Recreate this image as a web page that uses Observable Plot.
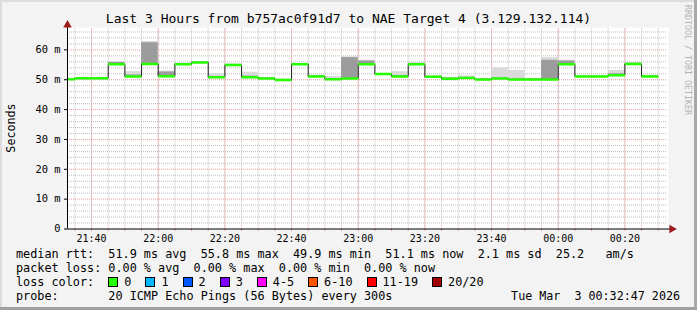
<!DOCTYPE html>
<html><head><meta charset="utf-8">
<script src="https://cdn.jsdelivr.net/npm/d3@7"></script>
<script src="https://cdn.jsdelivr.net/npm/@observablehq/plot@0.6"></script>
<style>
html,body{margin:0;padding:0;background:#f3f3f3;}
#wrap{position:relative;width:697px;height:310px;background:#f3f3f3;overflow:hidden;font-family:"DejaVu Sans Mono",monospace;color:#000;}
#chart{position:absolute;left:0;top:0;}
.t{position:absolute;white-space:pre;}
.edge{position:absolute;}
#legend{position:absolute;left:16px;top:247px;font-size:11.8px;line-height:14px;white-space:pre;}
.row{height:14px;position:relative;}
.box{display:inline-block;width:8px;height:8px;border:1px solid #000;vertical-align:-1px;margin-right:6px;}
.item{display:inline-block;margin-right:14px;}
</style></head>
<body><div id="wrap"></div>
<script>
// ---- data ----
const title = "Last 3 Hours from b757ac0f91d7 to NAE Target 4 (3.129.132.114)";
const yLabel = "Seconds";
const credit = "RRDTOOL / TOBI OETIKER";
const slotStarts = ["21:30","21:35","21:40","21:45","21:50","21:55","22:00","22:05","22:10","22:15",
  "22:20","22:25","22:30","22:35","22:40","22:45","22:50","22:55","23:00","23:05",
  "23:10","23:15","23:20","23:25","23:30","23:35","23:40","23:45","23:50","23:55",
  "00:00","00:05","00:10","00:15","00:20","00:25"];
const median = [50.2,50.5,50.5,55.2,51.1,55.3,51.2,55.2,55.8,50.8,
  54.9,50.8,50.4,49.9,55.2,51.1,50.2,50.4,55.2,51.9,
  51.1,55.2,51.0,50.3,50.6,50.1,50.4,50.1,50.1,50.1,
  55.2,51.1,51.1,51.5,55.3,51.1];
const smokeMin = [50.0,49.9,49.9,55.0,50.9,55.0,51.0,55.0,55.6,50.6,
  54.7,50.6,50.2,49.7,55.0,50.9,50.0,50.2,55.0,51.7,
  50.9,55.0,50.8,49.6,50.4,49.9,50.2,49.9,49.9,49.9,
  55.0,50.9,50.9,51.3,55.1,50.9];
const smokeMax = [50.4,50.7,50.7,56.0,52.7,62.8,52.9,55.6,56.0,52.0,
  55.3,52.5,50.8,50.2,55.5,51.5,51.1,57.7,56.5,52.1,
  52.7,55.8,51.3,50.8,51.3,50.3,54.0,53.1,50.3,57.4,
  56.5,51.3,51.3,53.1,55.8,51.5];
const darkMin = [50.1,50.0,50.0,55.1,51.0,55.1,51.1,55.1,55.7,50.7,
  54.8,50.7,50.3,49.8,55.1,51.0,50.1,50.3,55.1,51.8,
  51.0,55.1,50.9,49.8,50.5,50.0,50.3,50.0,50.0,50.0,
  55.1,51.0,51.0,51.4,55.2,51.0];
const darkMax = [50.3,50.6,50.6,55.8,51.6,62.4,52.6,55.4,55.9,51.0,
  55.1,51.2,50.6,50.1,55.4,51.3,50.4,57.4,56.3,52.0,
  51.4,55.4,51.1,50.6,50.8,50.2,50.6,50.3,50.2,56.5,
  56.3,51.2,51.2,52.0,55.5,51.3];
const yTicks = [0,10,20,30,40,50,60];
const rttStats = [51.9, 55.8, 49.9, 51.1];
const rttSd = 2.1;
const amps = 25.2;
const lossStats = [0, 0, 0, 0];
const lossLabels = ["0","1","2","3","4-5","6-10","11-19","20/20"];
const lossColors = ["#26ff00","#00b8ff","#0059ff","#7e00ff","#ff00ff","#ff5500","#ff0000","#a10000"];
const probeText = "20 ICMP Echo Pings (56 Bytes) every 300s";
const stampText = "Tue Mar  3 00:32:47 2026";

// ---- build ----
const xStart = new Date(2026,2,2,21,32,47);
const xEnd = new Date(2026,2,3,0,32,47);
function toDate(hm){const [h,m]=hm.split(":").map(Number);return h<12?new Date(2026,2,3,h,m):new Date(2026,2,2,h,m);}
const rows = slotStarts.map((s,i)=>{const t0=toDate(s);return {t0,t1:new Date(+t0+300000),m:median[i],lo:smokeMin[i],hi:smokeMax[i],dlo:darkMin[i],dhi:darkMax[i]};});
const stepPts = rows.map(r=>({t:r.t0,m:r.m})).concat([{t:rows[rows.length-1].t1,m:rows[rows.length-1].m}]);
const minor5 = d3.timeMinute.every(5).range(xStart, xEnd);
const major20 = d3.timeMinute.every(20).range(xStart, xEnd);
const minor2 = d3.range(2, 67, 2).filter(v=>v%10!==0);
const axisTop = 69;
const xAxisEnd = new Date(+xEnd + 60000);

const chart = Plot.plot({
  width: 697, height: 310,
  marginLeft: 67, marginRight: 30, marginTop: 28.5, marginBottom: 81.5,
  style: {background:"transparent", fontFamily:"DejaVu Sans Mono", fontSize:"10px", color:"black", overflow:"visible"},
  x: {type:"time", domain:[xStart,xEnd]},
  y: {domain:[0,67]},
  marks: [
    Plot.frame({fill:"white", stroke:"none", insetTop:-1.5, insetRight:-1}),
    Plot.ruleX(minor5, {stroke:"#bdbdbd", strokeDasharray:"1,1"}),
    Plot.ruleY(minor2, {stroke:"#bdbdbd", strokeDasharray:"1,1"}),
    Plot.ruleX(major20, {stroke:"#f29a9a", strokeDasharray:"1,1"}),
    Plot.ruleY(yTicks.filter(d=>d>0), {stroke:"#f29a9a", strokeDasharray:"1,1"}),
    Plot.rect(rows, {x1:"t0", x2:"t1", y1:"lo", y2:"hi", fill:"#dadada", inset:0, clip:true}),
    Plot.rect(rows, {x1:"t0", x2:"t1", y1:"dlo", y2:"dhi", fill:"#9c9c9c", inset:0, clip:true}),
    Plot.line(stepPts, {x:"t", y:"m", curve:"step-after", stroke:"#202020", strokeWidth:1, clip:true}),
    Plot.link(rows, {x1:"t0", x2:"t1", y1:"m", y2:"m", stroke:lossColors[0], strokeWidth:2.5, clip:true}),
    Plot.axisY(yTicks, {tickFormat:d=>d===0?"0":`${d} m`, tickSize:3, tickPadding:4, fontSize:10.4, label:null}),
    Plot.axisX(minor5, {tickSize:2, tickFormat:()=>"", stroke:"#e07070", label:null}),
    Plot.axisX(major20, {tickSize:0, tickPadding:6, tickFormat:d3.timeFormat("%H:%M"), fontSize:10, label:null}),
    Plot.ruleX([xStart], {y1:0, y2:axisTop, stroke:"black"}),
    Plot.ruleY([0], {x1:xStart, x2:xAxisEnd, stroke:"black"}),
    Plot.dot([xStart], {x:d=>d, y:axisTop, symbol:"triangle", r:3.2, fill:"#9b1c1c", stroke:"none", dy:2}),
    Plot.dot([xAxisEnd], {x:d=>d, y:0, symbol:"triangle", rotate:90, r:3.2, fill:"#9b1c1c", stroke:"none", dx:1})
  ]
});
chart.id = "chart";
const wrap = document.getElementById("wrap");
wrap.appendChild(chart);

function addText(txt, css){const d=document.createElement("div");d.className="t";d.textContent=txt;Object.assign(d.style,css);wrap.appendChild(d);return d;}
addText(title, {left:"0px", width:"697px", textAlign:"center", top:"11px", fontSize:"13px", lineHeight:"16px"});
addText(yLabel, {left:"11px", top:"128px", fontSize:"11.7px", lineHeight:"14px", transform:"translate(-50%,-50%) rotate(-90deg)"});
addText(credit, {left:"688px", top:"60px", fontSize:"8.3px", lineHeight:"10px", color:"#b4b4b4", transform:"translate(-50%,-50%) rotate(90deg)"});

const f1 = v=>v.toFixed(1), f2 = v=>v.toFixed(2);
const legend = document.createElement("div"); legend.id="legend"; wrap.appendChild(legend);
function row(){const r=document.createElement("div");r.className="row";legend.appendChild(r);return r;}
row().textContent = `median rtt:  ${f1(rttStats[0])} ms avg  ${f1(rttStats[1])} ms max  ${f1(rttStats[2])} ms min  ${f1(rttStats[3])} ms now  ${f1(rttSd)} ms sd  ${f1(amps)}   am/s`;
row().textContent = `packet loss: ${f2(lossStats[0])} % avg  ${f2(lossStats[1])} % max  ${f2(lossStats[2])} % min  ${f2(lossStats[3])} % now`;
const r3 = row(); r3.appendChild(document.createTextNode("loss color:  "));
lossLabels.forEach((l,i)=>{const it=document.createElement("span");it.className="item";const b=document.createElement("span");b.className="box";b.style.background=lossColors[i];it.appendChild(b);it.appendChild(document.createTextNode(l));r3.appendChild(it);});
const r4 = row(); r4.textContent = `probe:       ${probeText}`;
addText(stampText, {right:"17px", top:"289px", fontSize:"11.7px", lineHeight:"14px"});

// frame edges
[["0px","0px","697px","2px","#dcdcdc"],["0px","0px","2px","310px","#dcdcdc"],["694px","0px","3px","310px","#a8a8a8"],["0px","307px","697px","3px","#a0a0a0"]]
 .forEach(([l,t,w,h,c])=>{const e=document.createElement("div");e.className="edge";Object.assign(e.style,{left:l,top:t,width:w,height:h,background:c});wrap.appendChild(e);});
</script></body></html>
